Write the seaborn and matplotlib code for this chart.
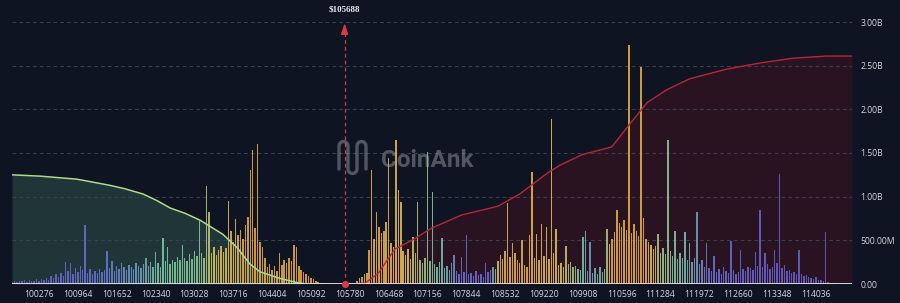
import numpy as np
import pandas as pd
import matplotlib
matplotlib.use("Agg")
import matplotlib.pyplot as plt
import matplotlib.transforms as mtransforms
from matplotlib.colors import LinearSegmentedColormap, to_hex
from matplotlib.ticker import FuncFormatter
from matplotlib.lines import Line2D
import seaborn as sns

# ---------------- data ----------------
price_start = 99803
price_step = 43
current_price = 105688

# liquidation volume per price bin, millions USD
liq_values_m = [
    25, 35, 20, 40, 30, 45, 25, 50, 35, 40,
    55, 30, 60, 45, 70, 50, 90, 65, 110, 80,
    130, 95, 250, 150, 240, 120, 180, 140, 210, 160,
    680, 130, 170, 110, 150, 125, 175, 140, 160, 375,
    180, 267, 150, 210, 170, 235, 190, 160, 220, 200,
    175, 240, 205, 180, 230, 295, 210, 250, 190, 370,
    240, 200, 525, 260, 427, 230, 280, 250, 310, 270,
    450, 300, 260, 340, 290, 380, 320, 720, 350, 300,
    1125, 830, 360, 420, 330, 390, 440, 370, 410, 945,
    607, 480, 750, 560, 620, 520, 680, 770, 1300, 1540,
    640, 1600, 480, 420, 300, 190, 230, 160, 210, 150,
    360, 220, 280, 240, 300, 260, 447, 427, 210, 160,
    140, 110, 90, 70, 55, 40, 25, 15, 10, 8,
    5, 4, 3, 2, 1, 0, 0, 0, 0, 0,
    0, 0, 40, 65, 80, 110, 130, 390, 1305, 520,
    828, 656, 580, 610, 713, 1440, 470, 420, 1650, 1076,
    943, 380, 330, 400, 290, 542, 350, 943, 280, 240,
    300, 1515, 260, 1057, 230, 200, 250, 523, 180, 210,
    160, 240, 332, 150, 120, 313, 140, 561, 110, 130,
    90, 150, 100, 120, 80, 237, 140, 160, 190, 170,
    260, 330, 290, 380, 924, 310, 466, 350, 280, 240,
    504, 220, 190, 561, 1286, 300, 572, 270, 683, 320,
    656, 290, 1886, 350, 630, 220, 240, 200, 435, 230,
    250, 190, 210, 170, 160, 542, 611, 150, 480, 130,
    180, 120, 200, 140, 170, 626, 458, 520, 600, 847,
    700, 650, 730, 620, 2737, 580, 690, 610, 550, 2481,
    752, 520, 480, 450, 400, 430, 572, 360, 410, 340,
    1649, 380, 320, 611, 290, 360, 300, 600, 270, 473,
    250, 300, 820, 230, 280, 200, 473, 180, 150, 320,
    140, 170, 120, 190, 150, 130, 488, 160, 110, 140,
    389, 170, 150, 200, 180, 160, 370, 210, 847, 190,
    359, 230, 170, 200, 389, 240, 1260, 180, 220, 150,
    160, 130, 140, 110, 389, 120, 90, 100, 80, 70,
    60, 75, 50, 45, 35, 600, 25, 15, 8, 0,
    0, 0, 0, 0, 0, 0,
]

tick_prices = [100276, 100964, 101652, 102340, 103028, 103716, 104404,
               105092, 105780, 106468, 107156, 107844, 108532, 109220,
               109908, 110596, 111284, 111972, 112660, 113348, 114036]

# cumulative long liquidations (left) and short liquidations (right), millions
left_cum_prices = [99798, 100300, 100950, 101200, 101530, 101800, 102120,
                   102350, 102600, 102860, 103130, 103530, 103780, 104010,
                   104190, 104540, 104850, 105000]
left_cum_values_m = [1250, 1235, 1200, 1170, 1130, 1090, 1030,
                     960, 870, 810, 730, 570, 420, 230,
                     140, 65, 15, 0]

right_cum_prices = [105850, 106050, 106280, 106580, 106880, 107230, 107760,
                    108400, 108790, 109280, 109500, 109890, 110420, 110700,
                    111050, 111410, 111800, 112450, 113040, 113620, 114220,
                    114674]
right_cum_values_m = [0, 10, 120, 400, 500, 640, 790,
                      890, 1030, 1270, 1360, 1480, 1570, 1800,
                      2080, 2230, 2350, 2460, 2530, 2585, 2610,
                      2610]

# colour zones (0 purple .. 4 orange) by price
color_anchor_prices = [99798, 100650, 101350, 102070, 102420, 103130, 103390,
                       103920, 104900, 105690, 105870, 106320, 106670, 107020,
                       107470, 107730, 108260, 108440, 108790, 109500, 109770,
                       110030, 110300, 110420, 111010, 111270, 111800, 112160,
                       113040, 114640]
color_anchor_levels = [0.0, 0.6, 1.0, 1.5, 2.0, 2.2, 3.0,
                       3.7, 3.8, 4.0, 3.5, 3.6, 3.2, 2.5,
                       1.8, 1.0, 0.8, 3.3, 3.6, 3.0, 2.3,
                       1.5, 2.0, 3.6, 3.6, 2.4, 1.8, 1.0,
                       0.5, 0.2]

# ---------------- style ----------------
BG = "#0e1421"
RED = "#e3344a"
sns.set_style("dark", {"axes.facecolor": BG, "figure.facecolor": BG,
                       "axes.edgecolor": BG})
plt.rcParams["font.family"] = ["Open Sans", "DejaVu Sans"]

fig = plt.figure(figsize=(9.0, 3.03), dpi=100)
ax = fig.add_axes([12 / 900, 1 - 284 / 303, 840 / 900, 262 / 303])
ax.set_facecolor(BG)

bin_prices = price_start + price_step * np.arange(len(liq_values_m))
cmap = LinearSegmentedColormap.from_list(
    "liq", ["#6a56cc", "#6a74dc", "#7ccdaa", "#e6c75a", "#f0a535"])
levels = np.interp(bin_prices, color_anchor_prices, color_anchor_levels) / 4.0
palette = {int(p): to_hex(cmap(l)) for p, l in zip(bin_prices, levels)}

df = pd.DataFrame({"price": bin_prices.astype(int), "value": liq_values_m})

# cumulative areas
ax.fill_between(left_cum_prices, left_cum_values_m, 0, color="#1f3537",
                lw=0, zorder=0.3)
ax.fill_between(right_cum_prices, right_cum_values_m, 0, color="#2a1320",
                lw=0, zorder=0.3)

sns.barplot(data=df, x="price", y="value", hue="price", palette=palette,
            native_scale=True, dodge=False, legend=False, width=0.6,
            errorbar=None, saturation=1, alpha=0.86, linewidth=0,
            ax=ax, zorder=2)

sns.lineplot(x=left_cum_prices, y=left_cum_values_m, color="#acdb8c",
             lw=1.1, ax=ax, zorder=4)
sns.lineplot(x=right_cum_prices, y=right_cum_values_m, color="#bb2638",
             lw=1.0, ax=ax, zorder=4)

# axes
ax.set_xlim(99798, 114674)
ax.set_ylim(0, 3000)
ax.set_xticks(tick_prices)
ax.set_xticklabels([str(t) for t in tick_prices])
ax.set_yticks([0, 500, 1000, 1500, 2000, 2500, 3000])


def fmt(v, pos):
    if v == 0:
        return "0.00"
    if v < 1000:
        return f"{v:.2f}M"
    return f"{v / 1000:.2f}B"


ax.yaxis.set_major_formatter(FuncFormatter(fmt))
ax.yaxis.tick_right()
ax.tick_params(axis="x", length=0, pad=4, labelsize=6.2, colors="#d4d7de")
ax.tick_params(axis="y", length=0, pad=6, labelsize=6.2, colors="#d4d7de")
ax.set_xlabel("")
ax.set_ylabel("")
ax.set_axisbelow(True)
ax.yaxis.grid(True, color="#3a4151", lw=0.7, ls=(0, (4, 3)))
ax.xaxis.grid(False)
for s in ax.spines.values():
    s.set_visible(False)

ax.axhline(0, color="#e6e0e4", lw=1.3, zorder=5)

# current price marker
ax.plot([current_price, current_price], [0, 2880], color=RED, lw=0.9,
        ls=(0, (3, 2.5)), zorder=6)
ax.annotate("", xy=(current_price, 2985), xytext=(current_price, 2860),
            arrowprops=dict(arrowstyle="-|>,head_width=0.22,head_length=0.65",
                            color=RED, lw=0.9, shrinkA=0, shrinkB=0),
            annotation_clip=False, zorder=6)
ax.scatter([current_price], [0], s=26, color=RED, zorder=7, clip_on=False,
           linewidths=0)
trans = mtransforms.blended_transform_factory(ax.transData, ax.transAxes)
ax.text(current_price, 1.046, f"${current_price}", transform=trans,
        ha="center", va="center", fontsize=6.5, color="#e8eaee",
        family="Liberation Serif", weight="bold")

# watermark
fig.text(381 / 900, 1 - 167 / 303, "CoinAnk", fontsize=17.5,
         family=["Roboto", "DejaVu Sans"], weight="bold", color="#b0b4bc",
         alpha=0.42, ha="left", va="baseline", zorder=1)
cols = [339, 348, 357, 366]
top, bot, r = 146, 169, 4.5
xs, ys = [], []
for k, cx in enumerate(cols[:-1]):
    nx = cols[k + 1]
    mid = (cx + nx) / 2
    if k % 2 == 0:
        xs += [cx, cx]
        ys += [bot, top]
        th = np.linspace(np.pi, 0, 12)
        xs += list(mid + r * np.cos(th))
        ys += list(top - r * np.sin(th))
    else:
        xs += [cx, cx]
        ys += [top, bot]
        th = np.linspace(np.pi, 0, 12)
        xs += list(mid + r * np.cos(th))
        ys += list(bot + r * np.sin(th))
xs += [cols[-1], cols[-1]]
ys += [top, bot]
logo = Line2D(np.array(xs) / 900, 1 - np.array(ys) / 303,
              transform=fig.transFigure, color="#b0b4bc", alpha=0.42,
              lw=2.4, solid_capstyle="round", solid_joinstyle="round")
fig.add_artist(logo)

fig.savefig("out.png", dpi=100, facecolor=BG)
